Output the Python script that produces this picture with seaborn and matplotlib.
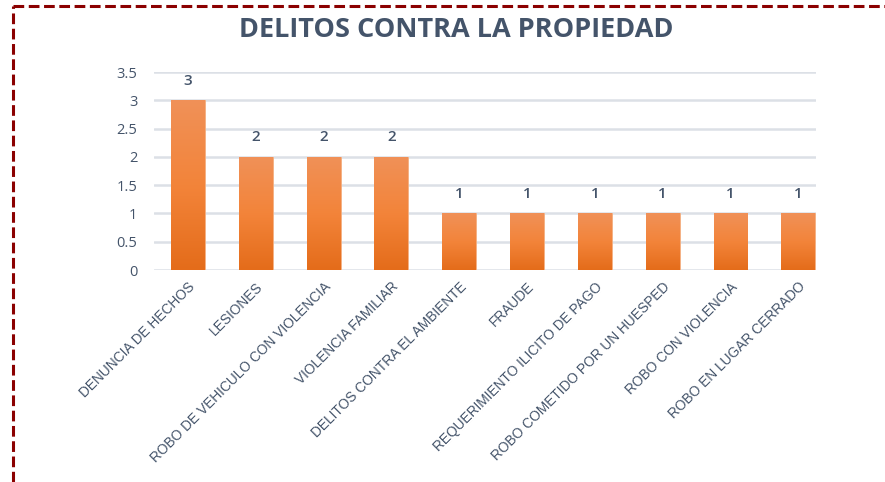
import matplotlib
matplotlib.use("Agg")
import matplotlib.pyplot as plt
import numpy as np
import pandas as pd
import seaborn as sns
from matplotlib.colors import LinearSegmentedColormap
from matplotlib.lines import Line2D

categories = [
    "DENUNCIA DE HECHOS",
    "LESIONES",
    "ROBO DE VEHICULO CON VIOLENCIA",
    "VIOLENCIA FAMILIAR",
    "DELITOS CONTRA EL AMBIENTE",
    "FRAUDE",
    "REQUERIMIENTO ILICITO DE PAGO",
    "ROBO COMETIDO POR UN HUESPED",
    "ROBO CON VIOLENCIA",
    "ROBO EN LUGAR CERRADO",
]
values = [3, 2, 2, 2, 1, 1, 1, 1, 1, 1]
y_ticks = [0, 0.5, 1, 1.5, 2, 2.5, 3, 3.5]
y_tick_labels = ["0", "0.5", "1", "1.5", "2", "2.5", "3", "3.5"]
title = "DELITOS CONTRA LA PROPIEDAD"

df = pd.DataFrame({"categoria": categories, "casos": values})

sns.set_theme(style="white")
plt.rcParams["font.family"] = ["Open Sans", "DejaVu Sans"]

text_color = "#44546A"
grid_color = "#DCE0E6"
x_right = 9.26

fig = plt.figure(figsize=(8.85, 4.82), dpi=100)
ax = fig.add_axes([154 / 885, 1 - 270 / 482, (816 - 154) / 885, (270 - 72) / 482])

sns.barplot(data=df, x="categoria", y="casos", color="#ED7D31", width=0.5,
            saturation=1, ax=ax, zorder=3)

ax.set_ylim(0, 3.5)
ax.set_xlim(-0.5, x_right)
ax.set_yticks(y_ticks)
ax.set_yticklabels(y_tick_labels, color=text_color, fontsize=10.5)
ax.yaxis.grid(True, color=grid_color, linewidth=1.8, zorder=0)
ax.set_axisbelow(True)
for s in ax.spines.values():
    s.set_visible(False)
ax.tick_params(axis="both", length=0)
ax.tick_params(axis="y", pad=12)
ax.set_xlabel("")
ax.set_ylabel("")

ax.set_xticks(range(len(categories)))
ax.set_xticklabels(categories, rotation=45, ha="right", rotation_mode="anchor",
                   color=text_color, fontsize=9.9,
                   family=["Liberation Sans", "DejaVu Sans"])
ax.tick_params(axis="x", pad=7)

# vertical gradient fill clipped to each bar
grad = LinearSegmentedColormap.from_list("naranja", ["#E46C1A", "#F3843A", "#F09158"])
gy = np.linspace(0, 1, 256).reshape(-1, 1)
for bar in ax.patches:
    x0, y0 = bar.get_x(), bar.get_y()
    w, h = bar.get_width(), bar.get_height()
    im = ax.imshow(gy, cmap=grad, origin="lower", aspect="auto",
                   extent=[x0, x0 + w, y0, y0 + h], zorder=4)
    im.set_clip_path(bar)
    bar.set_edgecolor("#F4B183")
    bar.set_linewidth(0.6)
ax.set_xlim(-0.5, x_right)
ax.set_ylim(0, 3.5)

for i, v in enumerate(values):
    ax.annotate(f"{v}", (i, v), xytext=(0, 9), textcoords="offset points",
                ha="center", va="bottom", color=text_color, fontsize=11,
                fontweight="semibold", zorder=5)

fig.text(456 / 885, 1 - 30 / 482, title, ha="center", va="center",
         color=text_color, fontsize=19.5, fontweight="bold")

# dashed frame on the left and top
frame_kw = dict(color="#8B0000", linewidth=2.2, linestyle=(0, (3.5, 1.5)),
                transform=fig.transFigure)
fig.add_artist(Line2D([13 / 885, 13 / 885], [0, 1 - 6 / 482], **frame_kw))
fig.add_artist(Line2D([13 / 885, 1], [1 - 6 / 482, 1 - 6 / 482], **frame_kw))

fig.savefig("out.png", dpi=100)
